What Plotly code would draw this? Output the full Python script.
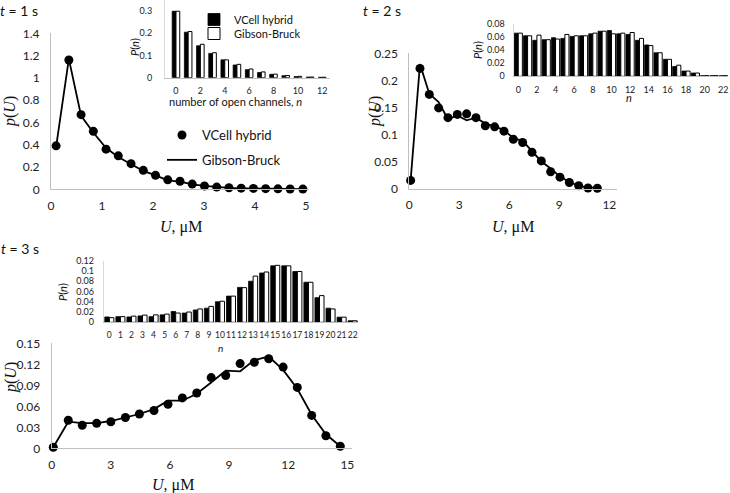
import plotly.graph_objects as go

W, H = 730, 493
def fx(p): return p / W
def fy(p): return 1 - p / H

# ---------- data ----------
# t = 1 s, main
u1 = [0.10, 0.35, 0.59, 0.83, 1.08, 1.32, 1.57, 1.81, 2.05, 2.29, 2.53, 2.77, 3.01, 3.25, 3.49, 3.73, 3.97, 4.21, 4.45, 4.69, 4.94]
p1_vcell = [0.39, 1.16, 0.67, 0.52, 0.36, 0.30, 0.23, 0.17, 0.125, 0.085, 0.072, 0.047, 0.030, 0.020, 0.014, 0.010, 0.008, 0.006, 0.004, 0.003, 0.002]
p1_gb = [0.38, 1.17, 0.66, 0.51, 0.37, 0.29, 0.225, 0.165, 0.125, 0.080, 0.068, 0.045, 0.030, 0.020, 0.013, 0.009, 0.007, 0.005, 0.004, 0.003, 0.002]

# t = 2 s, main
u2 = [0.08, 0.64, 1.20, 1.76, 2.32, 2.88, 3.44, 4.00, 4.56, 5.12, 5.68, 6.24, 6.80, 7.36, 7.92, 8.48, 9.04, 9.60, 10.16, 10.72, 11.28]
p2_vcell = [0.015, 0.222, 0.174, 0.149, 0.131, 0.137, 0.138, 0.131, 0.116, 0.114, 0.106, 0.091, 0.085, 0.067, 0.051, 0.031, 0.021, 0.011, 0.005, 0.001, 0.0005]
p2_gb = [0.015, 0.230, 0.175, 0.160, 0.128, 0.135, 0.126, 0.131, 0.120, 0.115, 0.108, 0.093, 0.088, 0.068, 0.050, 0.037, 0.022, 0.012, 0.005, 0.002, 0.001]

# t = 3 s, main
u3 = [0.08, 0.84, 1.55, 2.28, 3.00, 3.74, 4.45, 5.19, 5.90, 6.63, 7.36, 8.09, 8.83, 9.56, 10.28, 11.01, 11.74, 12.46, 13.19, 13.91, 14.64]
p3_vcell = [0.0015, 0.040, 0.033, 0.0357, 0.038, 0.044, 0.049, 0.054, 0.063, 0.072, 0.079, 0.101, 0.104, 0.121, 0.123, 0.128, 0.116, 0.087, 0.047, 0.018, 0.003]
p3_gb = [0.0015, 0.038, 0.036, 0.036, 0.039, 0.044, 0.049, 0.056, 0.068, 0.068, 0.078, 0.094, 0.111, 0.110, 0.126, 0.131, 0.112, 0.085, 0.048, 0.020, 0.003]

# insets: P(n)
n1 = list(range(13))
P1_vcell = [0.298, 0.204, 0.143, 0.109, 0.080, 0.057, 0.036, 0.023, 0.015, 0.009, 0.005, 0.003, 0.002]
P1_gb = [0.298, 0.207, 0.150, 0.112, 0.080, 0.060, 0.039, 0.026, 0.016, 0.010, 0.006, 0.003, 0.002]

n2 = list(range(23))
P2_vcell = [0.066, 0.062, 0.055, 0.056, 0.059, 0.058, 0.061, 0.062, 0.065, 0.069, 0.070, 0.065, 0.064, 0.055, 0.048, 0.036, 0.026, 0.015, 0.008, 0.005, 0.001, 0.001, 0.001]
P2_gb = [0.066, 0.062, 0.063, 0.056, 0.057, 0.064, 0.062, 0.062, 0.066, 0.069, 0.065, 0.066, 0.067, 0.058, 0.047, 0.036, 0.026, 0.017, 0.008, 0.005, 0.001, 0.001, 0.001]

n3 = list(range(23))
P3_vcell = [0.0105, 0.011, 0.0105, 0.0125, 0.011, 0.0145, 0.021, 0.018, 0.024, 0.0275, 0.040, 0.051, 0.068, 0.080, 0.096, 0.110, 0.110, 0.099, 0.078, 0.048, 0.0275, 0.010, 0.003]
P3_gb = [0.009, 0.011, 0.012, 0.014, 0.0145, 0.016, 0.018, 0.020, 0.026, 0.031, 0.041, 0.051, 0.0675, 0.090, 0.098, 0.111, 0.110, 0.099, 0.078, 0.052, 0.026, 0.010, 0.003]

NAME_V = "VCell hybrid"
NAME_G = "Gibson-Bruck"

# ---------- figure ----------
fig = go.Figure()

def main_traces(u, pv, pg, xa, ya, show):
    fig.add_trace(go.Scatter(x=u, y=pg, mode="lines", name=NAME_G,
                             line=dict(color="black", width=1.8),
                             xaxis=xa, yaxis=ya, showlegend=show,
                             legendgroup="g", legendrank=2, cliponaxis=False))
    fig.add_trace(go.Scatter(x=u, y=pv, mode="markers", name=NAME_V,
                             marker=dict(color="black", size=9),
                             xaxis=xa, yaxis=ya, showlegend=show,
                             legendgroup="v", legendrank=1, cliponaxis=False))

main_traces(u1, p1_vcell, p1_gb, "x", "y", True)
main_traces(u2, p2_vcell, p2_gb, "x2", "y2", False)
main_traces(u3, p3_vcell, p3_gb, "x3", "y3", False)

def inset_traces(n, pv, pg, xa, ya, w, show):
    fig.add_trace(go.Bar(x=n, y=pv, name=NAME_V, width=w, offset=-w,
                         marker=dict(color="black", line=dict(color="black", width=0.8)),
                         xaxis=xa, yaxis=ya, showlegend=show, legend="legend2"))
    fig.add_trace(go.Bar(x=n, y=pg, name=NAME_G, width=w, offset=0,
                         marker=dict(color="white", line=dict(color="black", width=1)),
                         xaxis=xa, yaxis=ya, showlegend=show, legend="legend3"))

inset_traces(n1, P1_vcell, P1_gb, "x4", "y4", 0.31, True)
inset_traces(n2, P2_vcell, P2_gb, "x5", "y5", 0.44, False)
inset_traces(n3, P3_vcell, P3_gb, "x6", "y6", 0.41, False)

AX = "#bfbfbf"
TF = dict(family="Lato", size=12, color="#222")
TFs = dict(family="Lato", size=9, color="#222")

def main_axes(xd, yd, xr, yr, xdt, ydt):
    xa = dict(domain=xd, range=xr, dtick=xdt, tick0=0, showline=True, linecolor=AX,
              linewidth=1, showgrid=False, zeroline=False, ticks="", automargin=False,
              tickfont=TF, ticklabelstandoff=5, tickangle=0, fixedrange=True)
    ya = dict(domain=yd, range=yr, dtick=ydt, tick0=0, showline=True, linecolor=AX,
              linewidth=1, showgrid=False, zeroline=False, ticks="", automargin=False,
              tickfont=TF, ticklabelstandoff=8, fixedrange=True)
    return xa, ya

def inset_axes(xd, yd, xr, yr, xdt, ydt, xso, yso, xfs=9):
    xa = dict(domain=xd, range=xr, dtick=xdt, tick0=0, showline=True, linecolor=AX,
              linewidth=1, showgrid=False, zeroline=False, ticks="", automargin=False,
              tickfont=dict(TFs, size=xfs), ticklabelstandoff=xso, tickangle=0, fixedrange=True)
    ya = dict(domain=yd, range=yr, dtick=ydt, tick0=0, showline=True, linecolor="#d9d9d9",
              linewidth=1, showgrid=False, zeroline=False, ticks="", automargin=False,
              tickfont=TFs, ticklabelstandoff=yso, fixedrange=True)
    return xa, ya

x1, y1 = main_axes([fx(51), fx(309)], [fy(189.3), fy(33.3)], [0, 5.06], [0, 1.4], 1, 0.2)
x2, y2 = main_axes([fx(409.3), fx(617)], [fy(188.5), fy(53.3)], [0, 12.46], [0, 0.25], 3, 0.05)
x3, y3 = main_axes([fx(51.7), fx(351.7)], [fy(448.3), fy(343.3)], [0, 15.22], [0, 0.15], 3, 0.03)
x4, y4 = inset_axes([fx(165), fx(329.6)], [fy(77.7), 1.0], [-0.9, 12.6], [0, 0.3484], 2, 0.1, 4, 10)
x5, y5 = inset_axes([fx(513.6), fx(728)], [fy(76.3), fy(24)], [-0.5, 22.5], [0, 0.08], 2, 0.02, 5, 6)
x6, y6 = inset_axes([fx(103.8), fx(358.2)], [fy(322.3), fy(260.7)], [-0.5, 22.5], [0, 0.12], 1, 0.02, 4, 7, xfs=8.5)

for k, (xa, ya) in enumerate([(x1, y1), (x2, y2), (x3, y3), (x4, y4), (x5, y5), (x6, y6)], start=1):
    s = "" if k == 1 else str(k)
    xa["anchor"] = "y" + s
    ya["anchor"] = "x" + s
    fig.layout["xaxis" + s] = xa
    fig.layout["yaxis" + s] = ya

SERIF = "Liberation Serif"
ann = []
def text(x, y, t, size, fam="Lato", angle=0, xanchor="center", yanchor="middle"):
    ann.append(dict(x=fx(x), y=fy(y), xref="paper", yref="paper", text=t, showarrow=False,
                    font=dict(family=fam, size=size, color="#111"), textangle=angle,
                    xanchor=xanchor, yanchor=yanchor))

# panel labels
text(-2, 11, "<i>t</i> = 1 s", 14, xanchor="left")
text(361, 11, "<i>t</i> = 2 s", 14, xanchor="left")
text(-1, 249, "<i>t</i> = 3 s", 14, xanchor="left")
# main axis titles
text(10, 112, "<i>p</i>(<i>U</i>)", 16, SERIF, angle=-90)
text(375, 112, "<i>p</i>(<i>U</i>)", 16, SERIF, angle=-90)
text(11, 378, "<i>p</i>(<i>U</i>)", 16, SERIF, angle=-90)
text(181, 227, "<i>U</i>, μM", 16, SERIF)
text(513, 227, "<i>U</i>, μM", 16, SERIF)
text(173, 485, "<i>U</i>, μM", 16, SERIF)
# inset titles
text(134, 47, "<i>P</i>(<i>n</i>)", 11, angle=-90)
text(235, 102, "number of open channels, <i>n</i>", 11)
text(477, 50, "<i>P</i>(<i>n</i>)", 11, angle=-90)
text(629, 97, "<i>n</i>", 11)
text(62, 292, "<i>P</i>(<i>n</i>)", 11, angle=-90)
text(221, 348, "<i>n</i>", 10)

LEG = dict(xanchor="left", yanchor="top", bgcolor="rgba(0,0,0,0)", itemwidth=30)
fig.update_layout(
    width=W, height=H,
    margin=dict(l=0, r=0, t=0, b=0, autoexpand=False),
    paper_bgcolor="white", plot_bgcolor="rgba(0,0,0,0)",
    barmode="group",
    annotations=ann,
    legend=dict(LEG, x=fx(162), y=fy(120),
                font=dict(family="Lato", size=13, color="#111"),
                traceorder="grouped", tracegroupgap=5),
    legend2=dict(LEG, x=fx(194), y=fy(5),
                 font=dict(family="Lato", size=11, color="#111")),
    legend3=dict(LEG, x=fx(194), y=fy(19),
                 font=dict(family="Lato", size=11, color="#111")),
)

fig.write_html("out.html", config={"displayModeBar": False},
               post_script="document.body.style.margin='0px';document.body.style.overflow='hidden';")
